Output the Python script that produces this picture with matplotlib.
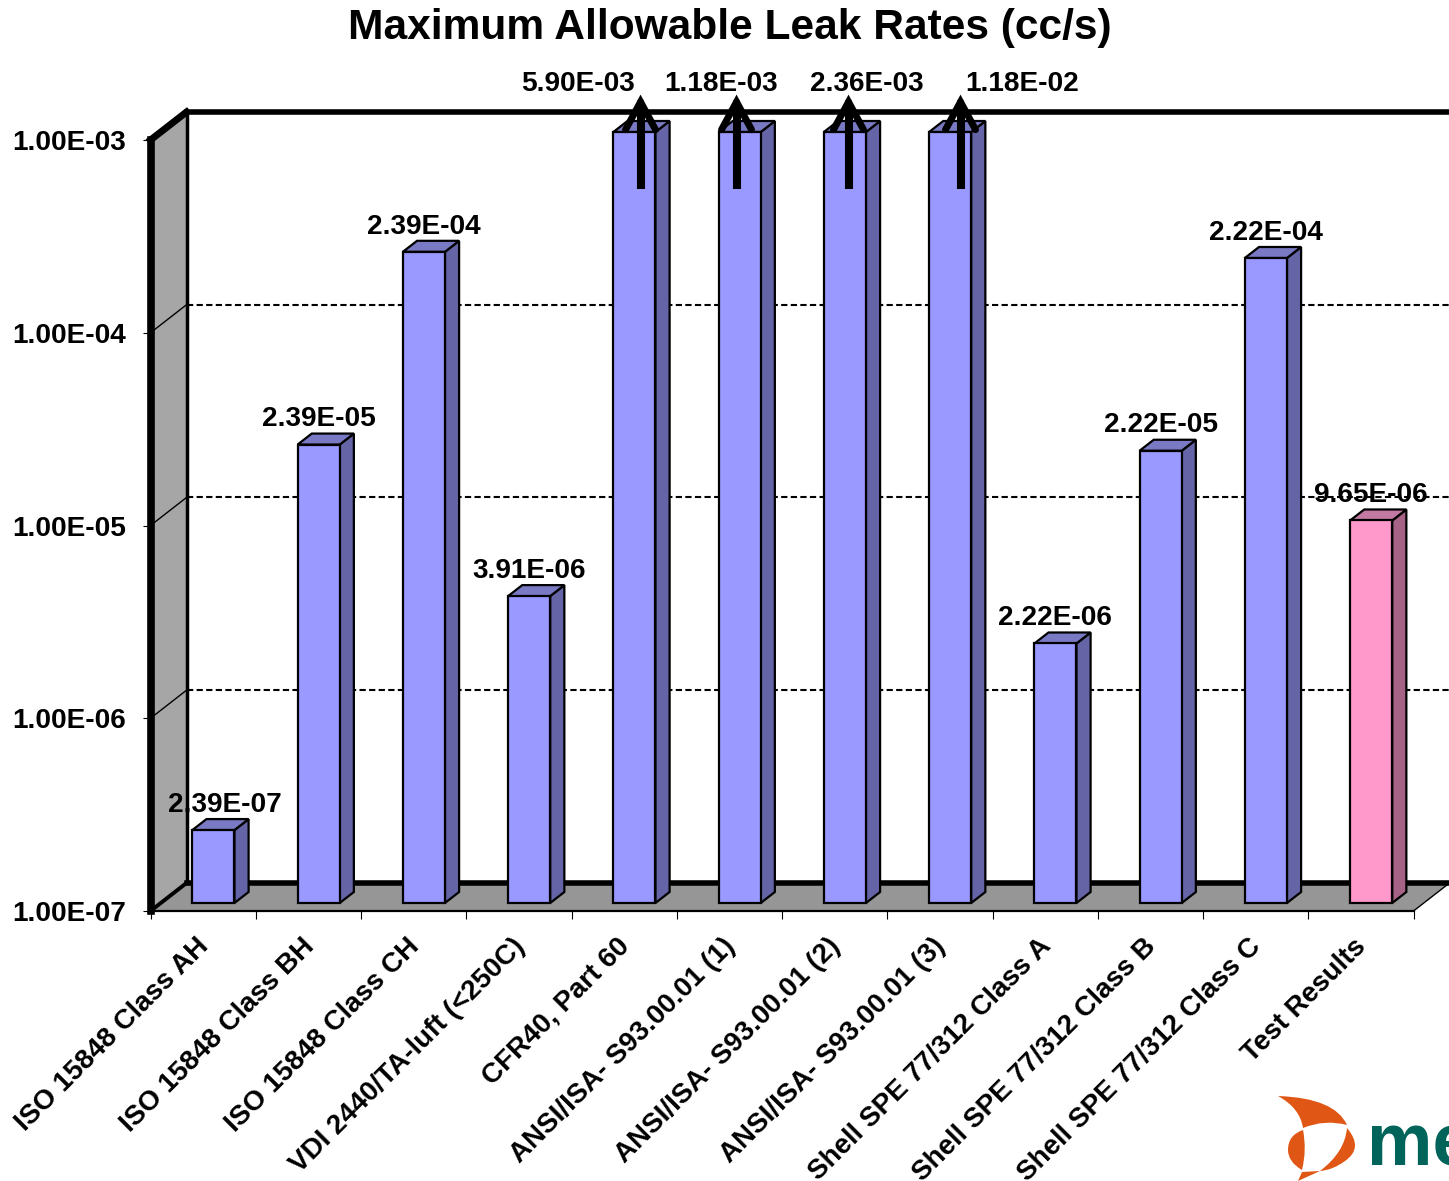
import numpy as np
import matplotlib
matplotlib.use("Agg")
import matplotlib.pyplot as plt
from matplotlib.patches import Polygon, PathPatch
from matplotlib.path import Path
from matplotlib.transforms import Affine2D

categories = ["ISO 15848 Class AH", "ISO 15848 Class BH", "ISO 15848 Class CH",
              "VDI 2440/TA-luft (<250C)", "CFR40, Part 60",
              "ANSI/ISA- S93.00.01 (1)", "ANSI/ISA- S93.00.01 (2)", "ANSI/ISA- S93.00.01 (3)",
              "Shell SPE 77/312 Class A", "Shell SPE 77/312 Class B", "Shell SPE 77/312 Class C",
              "Test Results"]
leak_rates = [2.39e-7, 2.39e-5, 2.39e-4, 3.91e-6, 5.90e-3, 1.18e-3, 2.36e-3, 1.18e-2,
              2.22e-6, 2.22e-5, 2.22e-4, 9.65e-6]
rate_labels = ["2.39E-07", "2.39E-05", "2.39E-04", "3.91E-06", "5.90E-03", "1.18E-03",
               "2.36E-03", "1.18E-02", "2.22E-06", "2.22E-05", "2.22E-04", "9.65E-06"]
y_ticks = [1e-7, 1e-6, 1e-5, 1e-4, 1e-3]
y_tick_labels = ["1.00E-07", "1.00E-06", "1.00E-05", "1.00E-04", "1.00E-03"]

plt.rcParams['font.family'] = ['Liberation Sans', 'DejaVu Sans']
plt.rcParams['font.weight'] = 'bold'

fig = plt.figure(figsize=(14.49, 11.81), dpi=100)
W, H = 1449, 1181
ax = fig.add_axes([150.5 / W, (H - 911) / H, (1414 - 151) / W, 771 / H])
ax.set_yscale('log')
ax.set_xlim(0, 12)
ax.set_ylim(1e-7, 1e-3)
for s in ax.spines.values():
    s.set_visible(False)
ax.patch.set_visible(False)

# fake 3D: depth 0 is the front plane, depth 1 the back wall
x_per_depth = 36 / 105.25
dec_per_depth = 28 / 192.75


def pt(x, v, d=0.0):
    return (x + d * x_per_depth, v * 10 ** (d * dec_per_depth))


ymin, ymax = 1e-7, 1e-3

# walls
ax.add_patch(Polygon([pt(0, ymin), pt(0, ymax), pt(0, ymax, 1), pt(0, ymin, 1)],
                     fc='#a6a6a6', ec='none', clip_on=False, zorder=1))
ax.add_patch(Polygon([pt(0, ymin), pt(12, ymin), pt(12, ymin, 1), pt(0, ymin, 1)],
                     fc='#969696', ec='none', clip_on=False, zorder=1))


def line(a, b, lw, ls='-', z=2):
    ax.plot([a[0], b[0]], [a[1], b[1]], color='black', lw=lw, ls=ls, clip_on=False,
            zorder=z, solid_capstyle='projecting')


# gridlines
for v in y_ticks[1:4]:
    line(pt(0, v), pt(0, v, 1), 1.0)
    line(pt(0, v, 1), pt(12, v, 1), 1.5, ls=(0, (3, 1.6)))

# frame
line(pt(0, ymin, 1), pt(12, ymin, 1), 4.0)
line(pt(0, ymax, 1), pt(12, ymax, 1), 4.0)
line(pt(0, ymin, 1), pt(0, ymax, 1), 2.5)
line(pt(0, ymin), pt(0, ymin, 1), 2.8)
line(pt(12, ymin), pt(12, ymin, 1), 1.0)
line(pt(0, ymax), pt(0, ymax, 1), 5.0)
line(pt(0, ymin), pt(12, ymin), 1.6)
line(pt(0, ymin), pt(0, ymax), 5.5, z=3)

# bars
bar_w = 0.40
d0, d1 = 8 / 28, 19 / 28
for i, v in enumerate(leak_rates):
    top = min(v, ymax)
    pink = categories[i] == "Test Results"
    front = '#ff99cc' if pink else '#9999ff'
    side = '#a66385' if pink else '#6464a6'
    lid = '#c27aa3' if pink else '#7a7ac4'
    x0 = i + 0.5 - bar_w / 2
    x1 = i + 0.5 + bar_w / 2
    style = dict(ec='black', lw=1.6, clip_on=False, zorder=4, joinstyle='miter')
    ax.add_patch(Polygon([pt(x1, ymin, d0), pt(x1, top, d0), pt(x1, top, d1), pt(x1, ymin, d1)],
                         fc=side, **style))
    ax.add_patch(Polygon([pt(x0, top, d0), pt(x1, top, d0), pt(x1, top, d1), pt(x0, top, d1)],
                         fc=lid, **style))
    ax.add_patch(Polygon([pt(x0, ymin, d0), pt(x1, ymin, d0), pt(x1, top, d0), pt(x0, top, d0)],
                         fc=front, **style))

# value labels on the bars that fit in the scale
for i, v in enumerate(leak_rates):
    if v <= ymax:
        x, y = pt(i + 0.5, v, d0)
        dx = 11 if i == 0 else 0
        ax.annotate(rate_labels[i], (x, y), xytext=(dx * 0.72, 18.2), textcoords='offset points',
                    ha='center', va='center', fontsize=20.2, zorder=6, annotation_clip=False)

# off scale bars: arrow and label above the frame
off_scale = [4, 5, 6, 7]
arrow_x = [4.656, 5.568, 6.632, 7.696]
arrow_low = 5.55e-4
arrow_high = 1.72e-3
label_x = [4.066, 5.425, 6.803, 8.285]
label_v = 1.95e-3
for i, ax_x, lab_x in zip(off_scale, arrow_x, label_x):
    ax.plot([ax_x, ax_x], [arrow_low, 1.5e-3], color='black', lw=5.8, solid_capstyle='butt',
            clip_on=False, zorder=7)
    ax.annotate('', xy=(ax_x, arrow_high), xytext=(ax_x, 1.2e-3),
                arrowprops=dict(arrowstyle='->,head_length=0.5,head_width=0.27', lw=5.0,
                                color='black', mutation_scale=40, shrinkA=0, shrinkB=0,
                                joinstyle='miter'),
                zorder=7, annotation_clip=False)
    ax.text(lab_x, label_v, rate_labels[i], ha='center', va='center', fontsize=20.2,
            zorder=6, clip_on=False)

# axes
ax.set_yticks(y_ticks)
ax.set_yticklabels(y_tick_labels, fontsize=20.2, fontweight='bold')
ax.minorticks_off()
ax.tick_params(axis='y', length=5.5, width=0.8, pad=12)
ax.set_xticks(np.arange(13))
ax.set_xticklabels([])
ax.tick_params(axis='x', length=5.5, width=0.8)
ax.set_xticks(np.arange(12) + 0.5 - 0.07, minor=True)
ax.set_xticklabels(categories, minor=True, rotation=45, ha='right', rotation_mode='anchor',
                   fontsize=20, fontweight='bold')
ax.tick_params(axis='x', which='minor', length=0, pad=16)

fig.text(729.5 / W, 1 - 28 / H, "Maximum Allowable Leak Rates (cc/s)", ha='center', va='center',
         fontsize=30.6, fontweight='bold')

# logo, in pixel coordinates of the picture
px = Affine2D().scale(1, -1).translate(0, H)
C3, L, M = Path.CURVE3, Path.LINETO, Path.MOVETO
logo_parts = [
    [(M, (1278, 1096)), (C3, (1335, 1098)), (C3, (1347, 1125)), (C3, (1325, 1119)), (C3, (1303, 1128)),
     (C3, (1300, 1108)), (C3, (1278, 1096))],
    [(M, (1303, 1130)), (C3, (1288, 1135)), (C3, (1288, 1150)), (C3, (1288, 1162)), (C3, (1302, 1170)),
     (C3, (1307, 1150)), (C3, (1303, 1130))],
    [(M, (1347, 1128)), (C3, (1364, 1148)), (C3, (1345, 1161)), (C3, (1333, 1170)), (C3, (1320, 1171)),
     (C3, (1345, 1152)), (C3, (1347, 1128))],
    [(M, (1298, 1181)), (L, (1302, 1172)), (L, (1320, 1171)), (L, (1298, 1181))],
]
for part in logo_parts:
    codes = [c for c, _ in part]
    verts = [p for _, p in part]
    fig.add_artist(PathPatch(Path(verts, codes), fc='#e05614', ec='none', transform=px))
fig.text(1367 / W, 1 - 1165 / H, "me", color='#00645a', fontsize=53, fontweight='bold',
         ha='left', va='baseline')

fig.savefig("out.png", dpi=100, facecolor='white')
